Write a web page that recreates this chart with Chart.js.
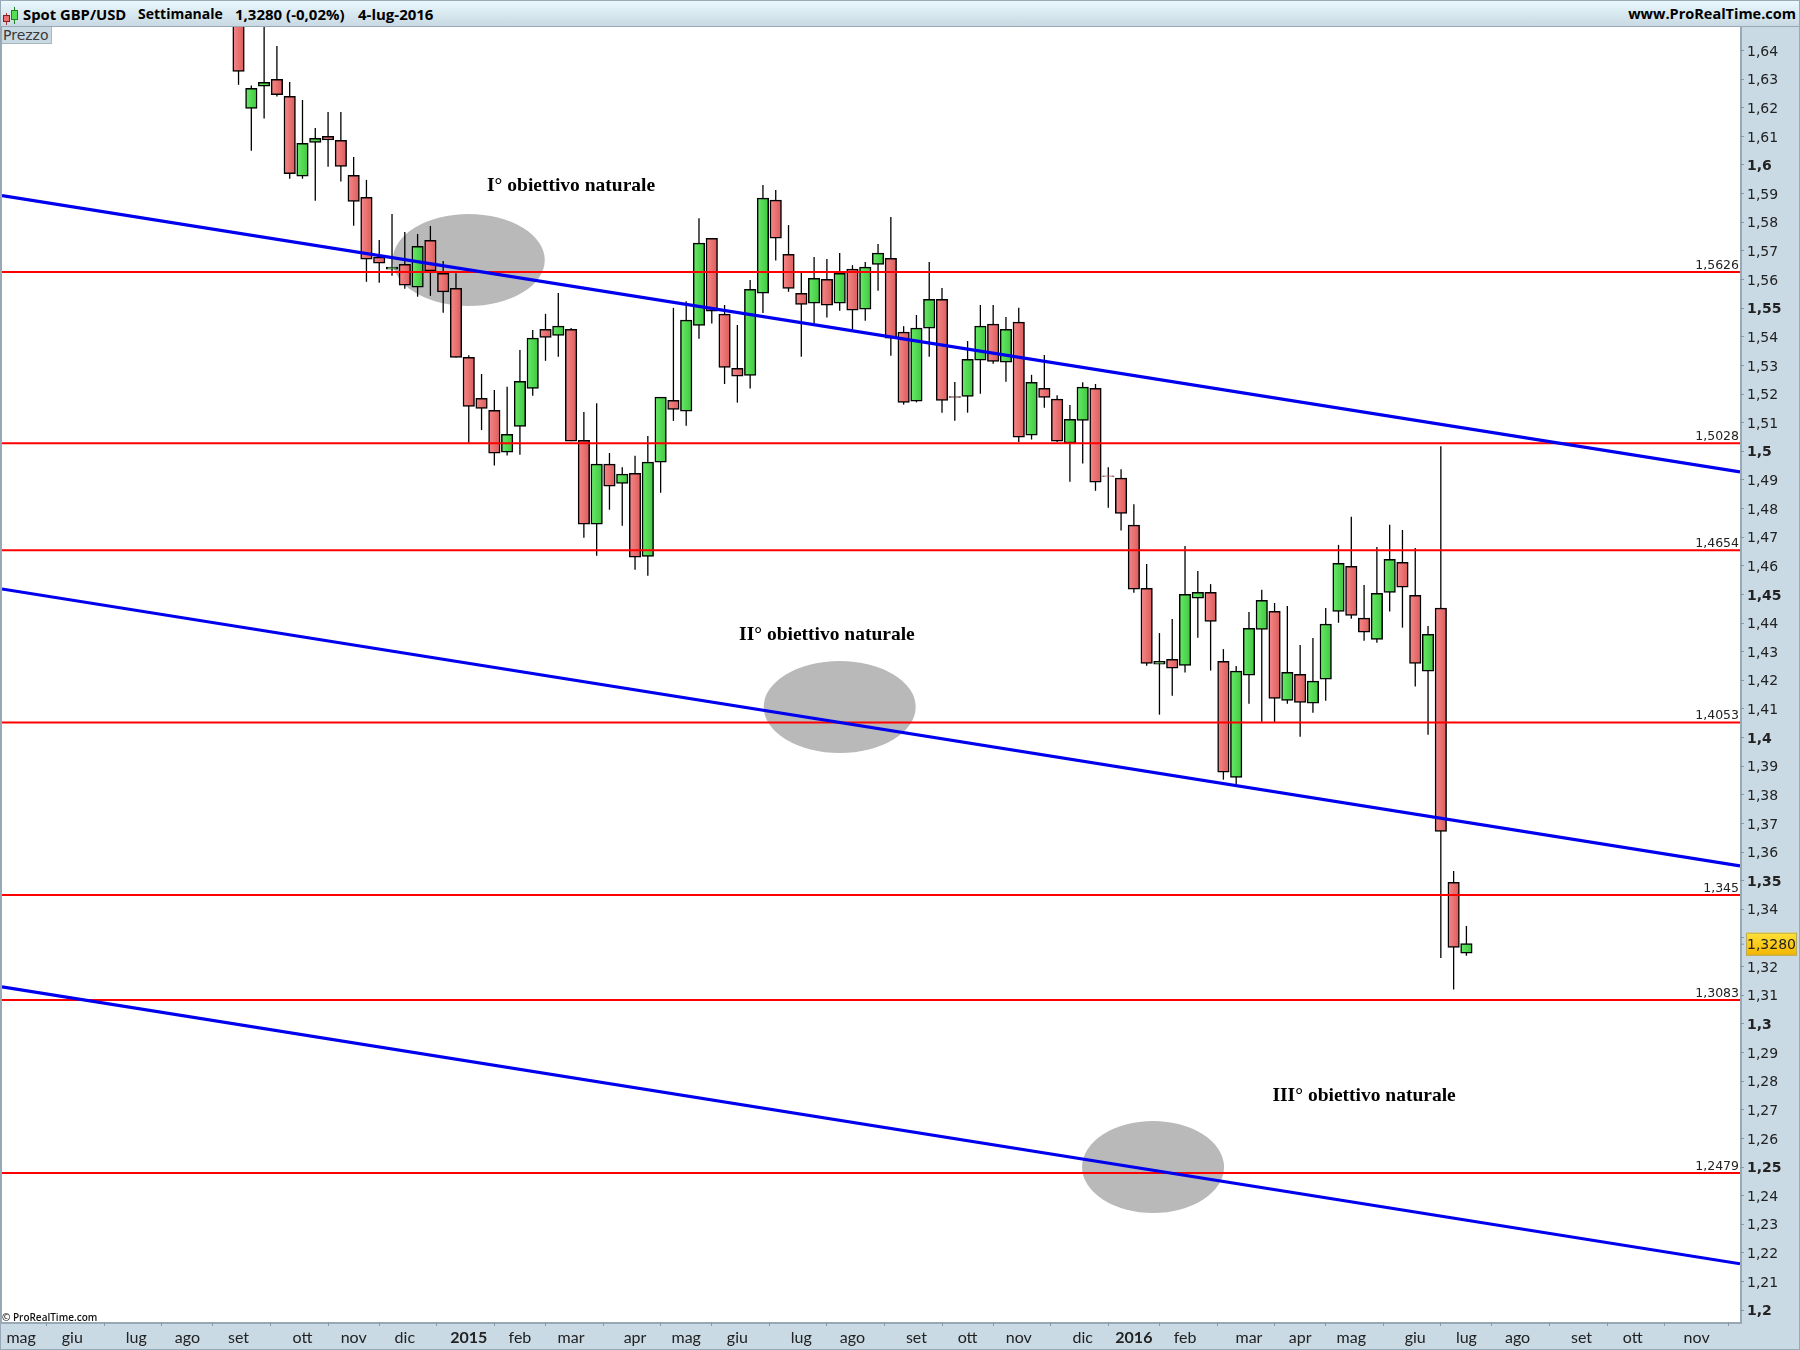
<!DOCTYPE html>
<html><head><meta charset="utf-8">
<script src="https://cdn.jsdelivr.net/npm/chart.js@4"></script>
<style>
html,body{margin:0;padding:0;width:1800px;height:1350px;overflow:hidden;background:#c9dae5}
#wrap{position:absolute;left:0;top:0;width:1800px;height:1350px}
#hdr{position:absolute;left:0;top:0;width:1800px;height:27px;box-sizing:border-box;background:linear-gradient(#e9f8fd,#c8d9e3);border-top:1px solid #98a9b5;border-bottom:1px solid #98a9b5;font:700 14.5px "Open Sans",sans-serif;color:#000}
#hdr span{position:absolute;top:3px;line-height:20px;white-space:nowrap}
.ic{position:absolute}
#prezzo{position:absolute;left:2px;top:27px;width:50px;height:17px;box-sizing:border-box;background:#c9d9e3;border:1px solid #a9b6bf;border-top:none;border-left:none;font:14px "DejaVu Sans",sans-serif;color:#3a3a3a;line-height:16px;padding-left:1px}
#copy{position:absolute;left:2px;top:1310px;font:600 10px "Open Sans",sans-serif;color:#111;white-space:nowrap}
#frame{position:absolute;left:0;top:0;width:1800px;height:1350px;box-sizing:border-box;border:1px solid #98a9b5;pointer-events:none}
#leftedge{position:absolute;left:0;top:27px;width:2px;height:1296px;background:#98a9b5}
</style></head>
<body>
<div id="wrap">
<canvas id="c" width="1800" height="1350"></canvas>
<div id="hdr">
<div class="ic" style="left:6px;top:12px;width:1px;height:12px;background:#b03030"></div>
<div class="ic" style="left:3px;top:14px;width:7px;height:7px;background:#ee7070;border:1px solid #802020;box-sizing:border-box"></div>
<div class="ic" style="left:14px;top:6px;width:1px;height:17px;background:#208020"></div>
<div class="ic" style="left:11px;top:9px;width:7px;height:10px;background:#55dd55;border:1px solid #208020;box-sizing:border-box"></div>
<span style="left:23px;font-size:14.8px">Spot GBP/USD</span>
<span style="left:138px;font-size:14px">Settimanale</span>
<span style="left:235px;font-size:15px">1,3280 (-0,02%)</span>
<span style="left:358px;font-size:15px">4-lug-2016</span>
<span style="right:4px">www.ProRealTime.com</span>
</div>
<div id="leftedge"></div>
<div id="prezzo">Prezzo</div>
<div id="copy">© ProRealTime.com</div>
<div id="frame"></div>
</div>
<script>
const firstWeek = 17;
const opens = [1.6600,1.6198,1.6275,1.6299,1.6240,1.5961,1.6079,1.6100,1.6086,1.5964,
1.5887,1.5678,1.5636,1.5653,1.5573,1.5737,1.5622,1.5569,1.5328,1.5185,
1.5143,1.4997,1.5087,1.5220,1.5426,1.5405,1.5426,1.5038,1.4745,1.4955,
1.4888,1.4923,1.4633,1.4962,1.5178,1.5140,1.5440,1.5744,1.5479,1.5290,
1.5265,1.5552,1.5877,1.5688,1.5552,1.5517,1.5601,1.5517,1.5636,1.5496,
1.5653,1.5674,1.5416,1.5175,1.5430,1.5531,1.5191,1.5192,1.5318,1.5444,
1.5311,1.5451,1.5056,1.5220,1.5182,1.5029,1.5108,1.5220,1.4914,1.4906,
1.4742,1.4521,1.4256,1.4273,1.4252,1.4487,1.4507,1.4266,1.3861,1.4218,
1.4378,1.4441,1.4130,1.4221,1.4120,1.4204,1.4441,1.4598,1.4417,1.4343,
1.4507,1.4612,1.4497,1.4232,1.4452,1.3494,1.3247];
const highs = [1.6700,1.6278,1.6550,1.6416,1.6290,1.6227,1.6129,1.6185,1.6185,1.6028,
1.5948,1.5738,1.5829,1.5766,1.5759,1.5787,1.5665,1.5622,1.5335,1.5270,
1.5214,1.5225,1.5354,1.5424,1.5480,1.5553,1.5431,1.5137,1.5168,1.4994,
1.4944,1.4984,1.5053,1.5189,1.5501,1.5524,1.5814,1.5744,1.5511,1.5441,
1.5598,1.5930,1.5913,1.5790,1.5624,1.5679,1.5672,1.5693,1.5650,1.5661,
1.5724,1.5818,1.5437,1.5476,1.5661,1.5570,1.5242,1.5385,1.5511,1.5511,
1.5469,1.5501,1.5267,1.5336,1.5196,1.5162,1.5241,1.5235,1.4944,1.4937,
1.4815,1.4606,1.4365,1.4414,1.4669,1.4582,1.4536,1.4309,1.4250,1.4439,
1.4516,1.4470,1.4460,1.4323,1.4348,1.4453,1.4673,1.4771,1.4533,1.4666,
1.4743,1.4725,1.4662,1.4390,1.5018,1.3534,1.3342];
const lows = [1.6280,1.6050,1.6162,1.6239,1.5952,1.5952,1.5875,1.5994,1.5942,1.5788,
1.5592,1.5589,1.5613,1.5568,1.5540,1.5543,1.5484,1.5328,1.5030,1.5074,
1.4950,1.4985,1.4988,1.5194,1.5316,1.5330,1.5035,1.4698,1.4635,1.4796,
1.4740,1.4586,1.4565,1.4855,1.5106,1.5089,1.5393,1.5446,1.5235,1.5170,
1.5219,1.5483,1.5666,1.5557,1.5330,1.5448,1.5467,1.5491,1.5425,1.5456,
1.5561,1.5334,1.5163,1.5171,1.5330,1.5135,1.5107,1.5135,1.5201,1.5306,
1.5243,1.5032,1.5041,1.5152,1.5032,1.4894,1.4957,1.4862,1.4803,1.4723,
1.4506,1.4251,1.4080,1.4146,1.4227,1.4349,1.4234,1.3853,1.3837,1.4118,
1.4055,1.4055,1.4118,1.4003,1.4087,1.4129,1.4401,1.4415,1.4338,1.4331,
1.4440,1.4384,1.4178,1.4010,1.3230,1.3120,1.3238];
const closes = [1.6327,1.6268,1.6289,1.6246,1.5970,1.6076,1.6093,1.6088,1.5995,1.5873,
1.5671,1.5657,1.5643,1.5580,1.5716,1.5630,1.5557,1.5328,1.5157,1.5150,
1.4993,1.5059,1.5244,1.5395,1.5398,1.5437,1.5035,1.4745,1.4955,1.4878,
1.4920,1.4630,1.4962,1.5189,1.5146,1.5458,1.5727,1.5489,1.5293,1.5262,
1.5566,1.5884,1.5744,1.5569,1.5513,1.5604,1.5510,1.5622,1.5493,1.5643,
1.5692,1.5395,1.5171,1.5430,1.5531,1.5178,1.5188,1.5321,1.5437,1.5314,
1.5426,1.5049,1.5241,1.5188,1.5035,1.5112,1.5224,1.4892,1.4912,1.4783,
1.4518,1.4259,1.4266,1.4242,1.4500,1.4507,1.4406,1.3879,1.4232,1.4382,
1.4479,1.4137,1.4228,1.4123,1.4197,1.4396,1.4609,1.4427,1.4368,1.4504,
1.4623,1.4525,1.4259,1.4361,1.3672,1.3267,1.3280];

const xTickWeeks = [0,4,9,13,17,22,26,30,35,39,43,48,52,56,61,65,70,74,78,83,87,91,96,100,104,109,113,117,122,126,131];
const xTickLabels = ['mag','giu','lug','ago','set','ott','nov','dic','2015','feb','mar','apr','mag','giu','lug','ago','set','ott','nov','dic','2016','feb','mar','apr','mag','giu','lug','ago','set','ott','nov'];
const yTickValues = [1.20,1.21,1.22,1.23,1.24,1.25,1.26,1.27,1.28,1.29,1.30,1.31,1.32,1.33,1.34,1.35,1.36,1.37,1.38,1.39,1.40,1.41,1.42,1.43,1.44,1.45,1.46,1.47,1.48,1.49,1.50,1.51,1.52,1.53,1.54,1.55,1.56,1.57,1.58,1.59,1.60,1.61,1.62,1.63,1.64];
const yBoldTicks = [1.20,1.25,1.30,1.35,1.40,1.45,1.50,1.55,1.60];
const redLevels = [1.5626,1.5028,1.4654,1.4053,1.345,1.3083,1.2479];
const redLabels = ['1,5626','1,5028','1,4654','1,4053','1,345','1,3083','1,2479'];
const channelLeft = [1.5893,1.4519,1.3129];
const channelRight = [1.4928,1.3552,1.2162];
const ellipseWeeks = [35,64,88.5];
const ellipsePrices = [1.5668,1.4107,1.2500];
const noteTexts = ['I° obiettivo naturale','II° obiettivo naturale','III° obiettivo naturale'];
const noteWeeks = [43.0,63.0,105.0];
const notePrices = [1.5931,1.4363,1.2755];
const lastPrice = 1.3280, lastLabel = '1,3280';

const xMin = -1.4933, xMax = 134.39, yMin = 1.19586, yMax = 1.6482;
const weeks = opens.map((_, i) => firstWeek + i);

function bodyFill(ctx){
  const i = ctx.dataIndex;
  if (ctx.type !== 'data' || i === undefined) return '#888';
  const up = closes[i] >= opens[i];
  const px = ctx.chart.scales.x ? ctx.chart.scales.x.getPixelForValue(weeks[i]) : NaN;
  if (!isFinite(px)) return up ? '#55d855' : '#e87272';
  const g = ctx.chart.ctx.createLinearGradient(px - 5, 0, px + 5, 0);
  if (up){ g.addColorStop(0,'#66e866'); g.addColorStop(1,'#42c942'); }
  else { g.addColorStop(0,'#f58585'); g.addColorStop(1,'#dc5f5f'); }
  return g;
}

const decor = {
  id:'decor',
  beforeDraw(ch){
    const {ctx, chartArea:a} = ch;
    ctx.save(); ctx.fillStyle='#fff'; ctx.fillRect(a.left,a.top,a.right-a.left,a.bottom-a.top);
    ctx.strokeStyle='#98a9b5'; ctx.lineWidth=2;
    ctx.beginPath(); ctx.moveTo(a.right+1,a.top); ctx.lineTo(a.right+1,a.bottom+2); ctx.moveTo(0,a.bottom+1); ctx.lineTo(a.right+1,a.bottom+1); ctx.stroke();
    ctx.restore();
  },
  beforeDatasetsDraw(ch){
    const {ctx, scales:{x,y}} = ch;
    ctx.save(); ctx.fillStyle='#b9b9b9';
    ellipseWeeks.forEach((w,i)=>{
      ctx.beginPath();
      ctx.ellipse(x.getPixelForValue(w), y.getPixelForValue(ellipsePrices[i]), i===2?71:76, 46, 0, 0, Math.PI*2);
      ctx.fill();
    });
    ctx.restore();
  },
  afterDatasetsDraw(ch){
    const {ctx, chartArea:a, scales:{x,y}} = ch;
    ctx.save();
    ctx.fillStyle='#222'; ctx.font='12.5px "DejaVu Sans"'; ctx.textAlign='right'; ctx.textBaseline='alphabetic';
    redLevels.forEach((v,i)=> ctx.fillText(redLabels[i], a.right-1, y.getPixelForValue(v)-3));
    ctx.fillStyle='#000'; ctx.font='bold 19.5px "Liberation Serif"'; ctx.textAlign='center'; ctx.textBaseline='middle';
    noteTexts.forEach((t,i)=> ctx.fillText(t, x.getPixelForValue(noteWeeks[i]), y.getPixelForValue(notePrices[i])+1.5));
    const py = y.getPixelForValue(lastPrice);
    const g = ctx.createLinearGradient(0,py-11,0,py+12);
    g.addColorStop(0,'#ffe23a'); g.addColorStop(1,'#f3b400');
    ctx.fillStyle=g; ctx.fillRect(a.right+6,py-11,51,23);
    ctx.strokeStyle='#b9a95a'; ctx.lineWidth=1; ctx.strokeRect(a.right+6.5,py-10.5,50,22);
    ctx.fillStyle='#222'; ctx.font='14px "DejaVu Sans"'; ctx.textAlign='left'; ctx.textBaseline='middle';
    ctx.fillText(lastLabel,a.right+7,py+2);
    ctx.strokeStyle='#8a9aa5'; ctx.beginPath(); ctx.moveTo(a.right,py+.5); ctx.lineTo(a.right+4,py+.5); ctx.stroke();
    ctx.restore();
  }
};

const lineStyle = {type:'line', pointRadius:0, fill:false, tension:0};
const redSets = redLevels.map(v => ({...lineStyle, data:[{x:xMin,y:v},{x:xMax,y:v}], borderColor:'#ff0000', borderWidth:2, order:2}));
const blueSets = channelLeft.map((v,i) => ({...lineStyle, data:[{x:xMin,y:v},{x:xMax,y:channelRight[i]}], borderColor:'#0000ee', borderWidth:3.2, order:1}));

new Chart(document.getElementById('c'), {
  type:'bar',
  data:{datasets:[
    {type:'bar', data:weeks.map((w,i)=>({x:w,y:[lows[i],highs[i]]})), backgroundColor:'#000', barThickness:1.3, inflateAmount:0, grouped:false, order:4},
    {type:'bar', data:weeks.map((w,i)=>({x:w,y:[opens[i],closes[i]]})), backgroundColor:bodyFill, borderColor:'#000', borderWidth:1.5, borderSkipped:false, barThickness:11.5, grouped:false, order:3},
    ...redSets, ...blueSets
  ]},
  plugins:[decor],
  options:{
    responsive:false, animation:false, devicePixelRatio:1,
    layout:{padding:{top:27,left:2,right:0,bottom:0}},
    plugins:{legend:{display:false},tooltip:{enabled:false},title:{display:false}},
    scales:{
      x:{type:'linear',min:xMin,max:xMax,offset:false,
        afterBuildTicks:s=>{s.ticks=xTickWeeks.map(v=>({value:v}));},
        afterFit:s=>{s.height=28;},
        border:{display:false},
        grid:{drawOnChartArea:false,tickLength:4,color:'#8a9aa5',tickColor:'#8a9aa5'},
        ticks:{autoSkip:false,maxRotation:0,minRotation:0,padding:2,color:'#222',
          font:c=>{const l=xTickLabels[c.index]||'';return {family:'Lato',size:16,weight:/^\d/.test(l)?'bold':'normal'};},
          callback:(v,i)=>xTickLabels[i]}},
      y:{type:'linear',position:'right',min:yMin,max:yMax,
        afterBuildTicks:s=>{s.ticks=yTickValues.map(v=>({value:v}));},
        afterFit:s=>{s.width=60;},
        border:{display:false},
        grid:{drawOnChartArea:false,tickLength:4,color:'#8a9aa5',tickColor:'#8a9aa5'},
        ticks:{autoSkip:false,padding:3,labelOffset:1.5,color:'#222',
          font:c=>({family:'DejaVu Sans',size:14,weight:(c.tick && yBoldTicks.some(b=>Math.abs(b-c.tick.value)<1e-6))?'bold':'normal'}),
          callback:v=>String(Math.round(v*100)/100).replace('.',',')}}
    }
  }
});
</script>
</body></html>
